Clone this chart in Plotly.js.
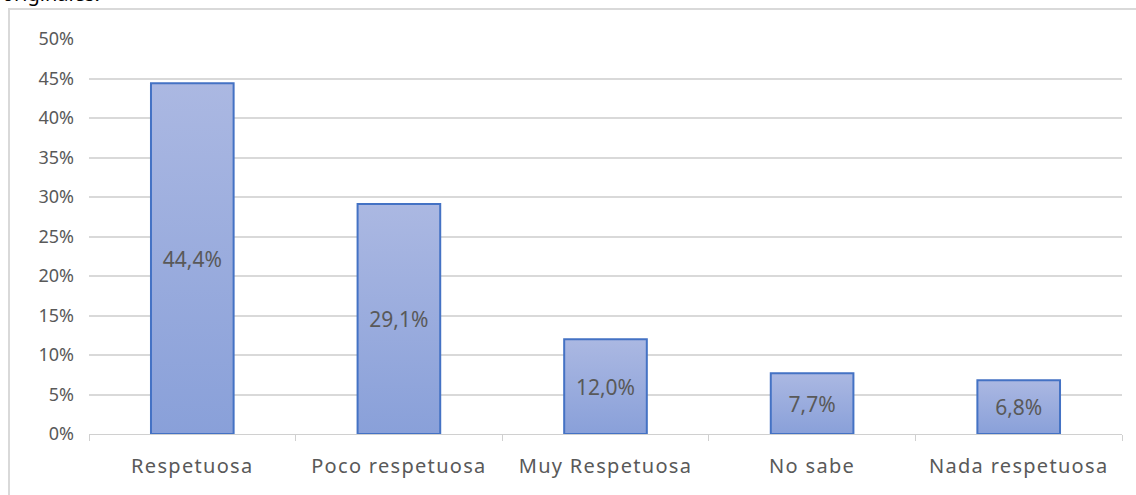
<!DOCTYPE html>
<html>
<head>
<meta charset="utf-8">
<script src="https://cdn.plot.ly/plotly-3.0.1.min.js"></script>
<style>html,body{margin:0;padding:0;background:#fff;}#chart{width:1136px;height:495px;}
.xtick text{letter-spacing:1.3px;}</style>
</head>
<body>
<div id="chart"></div>
<script>
const categories = ["Respetuosa", "Poco respetuosa", "Muy Respetuosa", "No sabe", "Nada respetuosa"];
const values = [44.4, 29.1, 12.0, 7.7, 6.8];
const yTickValues = [0, 5, 10, 15, 20, 25, 30, 35, 40, 45, 50];
const yTickLabels = ["0%", "5%", "10%", "15%", "20%", "25%", "30%", "35%", "40%", "45%", "50%"];

const font = "Noto Sans, Open Sans, sans-serif";
const trace = {
  type: "bar",
  x: categories,
  y: values,
  width: 0.4,
  marker: {color: "#9aacdd", line: {color: "#4472c4", width: 2}},
  texttemplate: "%{y:.1f}%",
  textposition: "inside",
  insidetextanchor: "middle",
  textangle: 0,
  textfont: {family: font, size: 21, color: "#595959"},
  hoverinfo: "none"
};
const L = 89, R = 14, T = 39, B = 61, W = 1136, H = 495;
const pw = W - L - R, ph = H - T - B;
const layout = {
  width: W, height: H,
  margin: {l: L, r: R, t: T, b: B, pad: 0},
  paper_bgcolor: "#fff", plot_bgcolor: "#fff",
  separators: ",.",
  showlegend: false,
  bargap: 0.6,
  font: {family: font, color: "#595959", size: 19},
  xaxis: {
    type: "category",
    showgrid: false,
    showline: true, linecolor: "#d0d0d0", linewidth: 1,
    ticks: "outside", tickson: "boundaries", ticklen: 6, tickcolor: "#d0d0d0", tickwidth: 1,
    tickfont: {family: font, size: 20, color: "#595959"},
    ticklabelstandoff: 14,
    zeroline: false
  },
  yaxis: {
    range: [0, 50], tickmode: "array", tickvals: yTickValues, ticktext: yTickLabels,
    showgrid: true, gridcolor: "#d9d9d9", gridwidth: 2,
    zeroline: false, showline: false, ticks: "",
    tickfont: {family: font, size: 18, color: "#595959"},
    ticklabelstandoff: 14
  },
  shapes: [{
    type: "rect", xref: "paper", yref: "paper", layer: "below",
    x0: (9 - L) / pw, x1: (W + 20 - L) / pw,
    y0: -(H + 20 - T - ph) / ph, y1: (H - 9 - B) / ph,
    line: {color: "#d9d9d9", width: 2}, fillcolor: "rgba(0,0,0,0)"
  }],
  annotations: [{
    text: "originales.", xref: "paper", yref: "paper",
    x: (0 - L) / pw, y: (H - B - 9) / ph, xanchor: "left", yanchor: "bottom",
    showarrow: false, font: {family: font, size: 20, color: "#000"}
  }]
};
Plotly.newPlot("chart", [trace], layout, {staticPlot: true, displayModeBar: false}).then(function (gd) {
  const svg = gd.querySelector("svg.main-svg");
  const NS = "http://www.w3.org/2000/svg";
  let defs = svg.querySelector("defs");
  if (!defs) { defs = document.createElementNS(NS, "defs"); svg.insertBefore(defs, svg.firstChild); }
  const g = document.createElementNS(NS, "linearGradient");
  g.setAttribute("id", "barGrad");
  g.setAttribute("x1", "0"); g.setAttribute("y1", "0"); g.setAttribute("x2", "0"); g.setAttribute("y2", "1");
  [["0", "#abb8e2"], ["1", "#89a0d9"]].forEach(function (s) {
    const st = document.createElementNS(NS, "stop");
    st.setAttribute("offset", s[0]); st.setAttribute("stop-color", s[1]);
    g.appendChild(st);
  });
  defs.appendChild(g);
  gd.querySelectorAll(".bars .point path").forEach(function (p) {
    p.style.fill = "url(#barGrad)";
    p.style.fillOpacity = "1";
  });
});
</script>
</body>
</html>
